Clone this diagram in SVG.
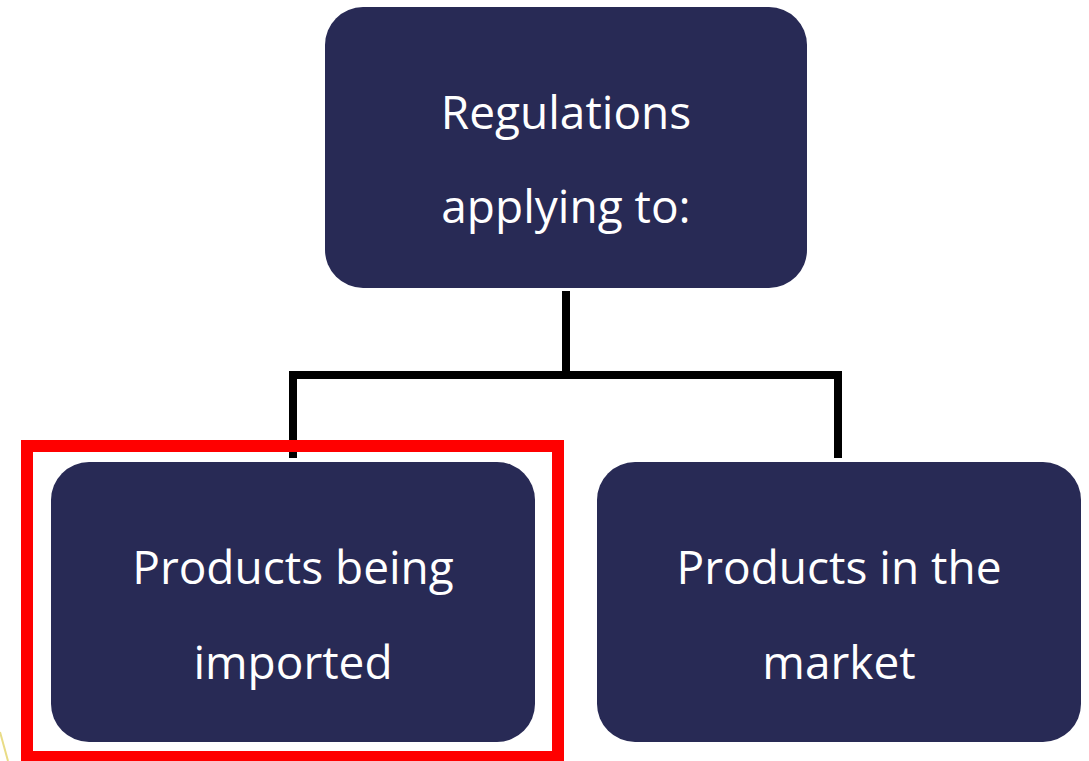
<svg xmlns="http://www.w3.org/2000/svg" width="1089" height="761" viewBox="0 0 1089 761">
<style>
.box{fill:#282a55;}
.lbl{font-family:"Open Sans","Noto Sans",sans-serif;font-size:46px;fill:#ffffff;text-anchor:middle;}
.conn{fill:none;stroke:#000;stroke-width:8;stroke-linecap:butt;stroke-linejoin:miter;}
</style>
<rect width="1089" height="761" fill="#ffffff"/>
<line x1="0" y1="732" x2="8" y2="761" stroke="#e9dc86" stroke-width="2"/>
<g id="connectors">
<path class="conn" d="M566 291 V375"/>
<path class="conn" d="M293 458 V375 H838 V458"/>
</g>
<g id="node-regulations">
<rect class="box" x="325" y="7" width="482" height="281" rx="38"/>
<text class="lbl" x="566" y="129">Regulations</text>
<text class="lbl" x="566" y="223">applying to:</text>
</g>
<g id="node-imported">
<rect class="box" x="51" y="462" width="484" height="280" rx="38"/>
<text class="lbl" x="293" y="584">Products being</text>
<text class="lbl" x="293" y="679">imported</text>
</g>
<g id="node-market">
<rect class="box" x="597" y="462" width="484" height="280" rx="38"/>
<text class="lbl" x="839" y="584">Products in the</text>
<text class="lbl" x="839" y="679">market</text>
</g>
<g id="highlight">
<rect x="27" y="446" width="531" height="311" fill="none" stroke="#ff0000" stroke-width="12"/>
</g>
</svg>
